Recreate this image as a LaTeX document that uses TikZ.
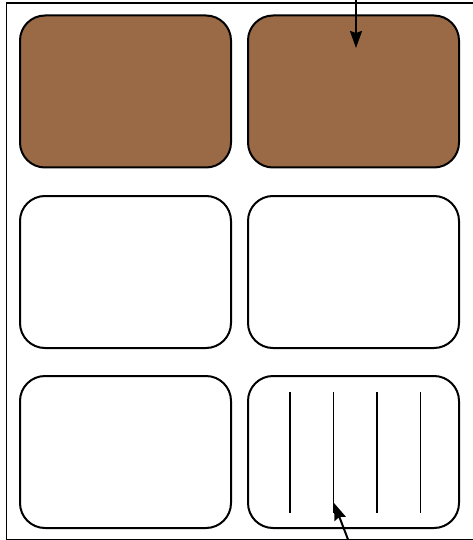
\documentclass[tikz,border=0pt]{standalone}
\usetikzlibrary{arrows.meta, positioning}
\definecolor{brownfill}{RGB}{153,106,69}

\begin{document}
\begin{tikzpicture}[x=1pt, y=-1pt,
    panel/.style={rectangle, rounded corners=25pt, draw, line width=2pt, minimum width=211pt, minimum height=152pt, inner sep=0pt},
    pointer/.style={-{Stealth[length=17pt, width=12pt, inset=2pt]}, line width=2pt}]
    \useasboundingbox (0,0) rectangle (472,540);
    \draw [line width=1.6pt] (6.5,3) rectangle (480,540);

    \node (topleft) [panel, fill=brownfill] at (125.5,91.5) {};
    \node (topright) [panel, fill=brownfill] at (353.5,91.5) {};
    \node (midleft) [panel] at (125.5,272) {};
    \node (midright) [panel] at (353.5,272) {};
    \node (botleft) [panel] at (125.5,452) {};
    \node (botright) [panel] at (353.5,452) {};

    \foreach \x in {290,333.5,377,420.5}
        \draw [line width=1.8pt] (\x,392) -- (\x,513);

    \coordinate (topstart) at (356,-2);
    \coordinate (topend) at (356,48);
    \coordinate (botstart) at (349,542);
    \coordinate (botend) at (334,503);
    \draw [pointer] (topstart) -- (topend);
    \draw [pointer] (botstart) -- (botend);
\end{tikzpicture}
\end{document}
